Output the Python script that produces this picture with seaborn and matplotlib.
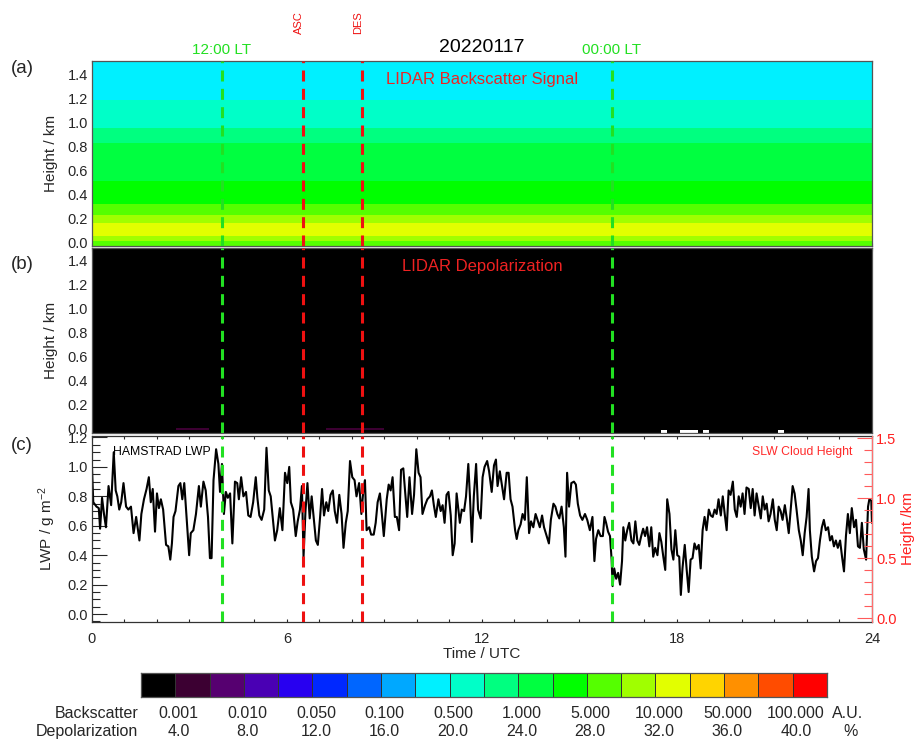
import numpy as np
import matplotlib
matplotlib.use('Agg')
import matplotlib.pyplot as plt
import matplotlib.transforms as mtransforms
from matplotlib.colors import ListedColormap, BoundaryNorm
from matplotlib.ticker import MultipleLocator, FormatStrFormatter
import seaborn as sns

# ---- data ----
date_label = '20220117'
hour_ticks = [0, 6, 12, 18, 24]

lt_times = [4.0, 16.0]
lt_labels = ['12:00 LT', '00:00 LT']
sat_times = [6.5, 8.3]
sat_labels = ['ASC', 'DES']

# colour table (20 levels)
level_colors = ['#000000', '#3c0032', '#560070', '#4a00b4', '#2800f0',
                '#0028ff', '#0066ff', '#00a8ff', '#00f0ff', '#00ffc8',
                '#00ff80', '#00ff40', '#00ff00', '#55ff00', '#a0ff00',
                '#e2ff00', '#ffd400', '#ff9000', '#ff4c00', '#ff0000']
bsc_labels = ['0.001', '0.010', '0.050', '0.100', '0.500',
              '1.000', '5.000', '10.000', '50.000', '100.000']
depol_labels = ['4.0', '8.0', '12.0', '16.0', '20.0',
                '24.0', '28.0', '32.0', '36.0', '40.0']

# (a) backscatter: height band edges (km) and colour level of each band
bsc_height_edges = [-0.035, 0.011, 0.052, 0.157, 0.23, 0.323, 0.37,
                    0.508, 0.826, 0.95, 1.185, 1.51]
bsc_band_level = [13, 14, 15, 14, 13, 12, 12, 11, 10, 9, 8]

# (b) depolarization: mostly zero, a few near-ground features
depol_time_edges = [0, 2.6, 3.6, 7.2, 9.0, 17.5, 17.7, 18.1, 18.65,
                    18.8, 19.0, 21.1, 21.3, 24]
depol_height_edges = [-0.035, -0.018, 0.005, 1.51]
depol_bottom_level = [0, 0, 0, 0, 0, np.nan, 0, np.nan, 0, np.nan, 0, np.nan, 0]
depol_ground_level = [0, 1, 0, 1, 0, 0, 0, 0, 0, 0, 0, 0, 0]

# (c) HAMSTRAD liquid water path
lwp_time = [
    0.00, 0.04, 0.14, 0.21, 0.25, 0.31, 0.37, 0.43, 0.51, 0.59, 0.67, 0.73, 0.78, 0.84, 0.90, 0.97,
    1.05, 1.12, 1.20, 1.28, 1.36, 1.46, 1.52, 1.60, 1.68, 1.75, 1.81, 1.87, 1.94, 2.00, 2.06, 2.12,
    2.19, 2.28, 2.35, 2.41, 2.46, 2.51, 2.57, 2.66, 2.72, 2.78, 2.84, 2.91, 2.99, 3.04, 3.12, 3.20,
    3.29, 3.35, 3.43, 3.50, 3.57, 3.63, 3.68, 3.74, 3.82, 3.89, 3.94, 4.00, 4.06, 4.12, 4.18, 4.25,
    4.32, 4.40, 4.47, 4.52, 4.59, 4.66, 4.74, 4.81, 4.88, 4.96, 5.04, 5.09, 5.15, 5.22, 5.30, 5.37,
    5.44, 5.50, 5.56, 5.63, 5.70, 5.78, 5.86, 5.94, 6.01, 6.07, 6.12, 6.19, 6.27, 6.33, 6.40, 6.46,
    6.51, 6.57, 6.63, 6.70, 6.76, 6.82, 6.89, 6.95, 7.02, 7.08, 7.14, 7.21, 7.27, 7.34, 7.41, 7.47,
    7.54, 7.61, 7.68, 7.74, 7.81, 7.87, 7.94, 8.01, 8.08, 8.14, 8.22, 8.29, 8.35, 8.40, 8.45, 8.53,
    8.59, 8.67, 8.73, 8.79, 8.86, 8.92, 8.98, 9.07, 9.13, 9.19, 9.25, 9.32, 9.38, 9.45, 9.51, 9.58,
    9.64, 9.70, 9.77, 9.85, 9.91, 9.98, 10.05, 10.11, 10.17, 10.25, 10.32, 10.40, 10.46, 10.52, 10.58, 10.66,
    10.73, 10.79, 10.85, 10.91, 10.97, 11.04, 11.10, 11.16, 11.22, 11.32, 11.38, 11.45, 11.51, 11.58, 11.63, 11.69,
    11.75, 11.82, 11.88, 11.96, 12.02, 12.08, 12.16, 12.22, 12.30, 12.37, 12.43, 12.48, 12.55, 12.62, 12.68, 12.76,
    12.82, 12.88, 12.94, 13.02, 13.07, 13.12, 13.19, 13.25, 13.32, 13.38, 13.45, 13.51, 13.58, 13.65, 13.71, 13.78,
    13.85, 13.91, 13.99, 14.06, 14.12, 14.20, 14.26, 14.32, 14.38, 14.45, 14.52, 14.57, 14.62, 14.68, 14.75, 14.83,
    14.89, 14.95, 15.02, 15.09, 15.17, 15.24, 15.32, 15.40, 15.46, 15.51, 15.58, 15.65, 15.72, 15.77, 15.82, 15.88,
    15.94, 15.99, 16.02, 16.07, 16.13, 16.19, 16.25, 16.31, 16.35, 16.41, 16.47, 16.53, 16.60, 16.66, 16.72, 16.78,
    16.84, 16.90, 16.96, 17.02, 17.08, 17.15, 17.21, 17.27, 17.33, 17.40, 17.46, 17.52, 17.58, 17.64, 17.70, 17.77,
    17.83, 17.89, 17.95, 18.01, 18.07, 18.12, 18.17, 18.24, 18.30, 18.36, 18.42, 18.48, 18.54, 18.60, 18.67, 18.73,
    18.79, 18.85, 18.91, 18.98, 19.04, 19.10, 19.16, 19.22, 19.28, 19.35, 19.41, 19.47, 19.53, 19.59, 19.65, 19.72,
    19.78, 19.84, 19.90, 19.96, 20.02, 20.08, 20.14, 20.21, 20.27, 20.33, 20.39, 20.45, 20.51, 20.58, 20.64, 20.70,
    20.76, 20.82, 20.88, 20.95, 21.01, 21.07, 21.13, 21.19, 21.25, 21.32, 21.38, 21.44, 21.50, 21.56, 21.62, 21.68,
    21.75, 21.81, 21.87, 21.93, 21.99, 22.05, 22.09, 22.15, 22.22, 22.28, 22.34, 22.40, 22.46, 22.52, 22.58, 22.65,
    22.71, 22.77, 22.83, 22.89, 22.95, 23.02, 23.08, 23.14, 23.20, 23.26, 23.32, 23.38, 23.45, 23.51, 23.57, 23.63,
    23.69, 23.75, 23.82, 23.88, 23.92, 23.98, 24.00]
lwp_value = [
    1.00, 0.76, 0.73, 0.72, 0.58, 0.79, 0.68, 0.59, 0.87, 0.74, 1.10, 0.84, 0.80, 0.71, 0.76, 0.89,
    0.73, 0.71, 0.73, 0.55, 0.66, 0.50, 0.68, 0.78, 0.85, 0.93, 0.76, 0.85, 0.56, 0.82, 0.72, 0.78,
    0.71, 0.47, 0.46, 0.37, 0.48, 0.66, 0.70, 0.87, 0.89, 0.78, 0.89, 0.66, 0.40, 0.55, 0.57, 0.68,
    0.87, 0.73, 0.90, 0.84, 0.66, 0.38, 0.38, 0.91, 1.12, 1.02, 0.83, 1.02, 0.68, 0.83, 0.79, 0.82,
    0.48, 0.90, 0.89, 0.78, 0.93, 0.80, 0.83, 0.67, 0.66, 0.76, 0.93, 0.79, 0.67, 0.64, 0.71, 1.13,
    0.84, 0.80, 0.66, 0.50, 0.57, 0.72, 0.57, 0.96, 0.89, 1.00, 0.76, 0.71, 0.53, 0.63, 0.71, 0.87,
    0.39, 0.70, 0.89, 0.65, 0.80, 0.66, 0.50, 0.47, 0.66, 0.85, 0.67, 0.76, 0.70, 0.81, 0.84, 0.70,
    0.62, 0.81, 0.68, 0.45, 0.62, 0.70, 1.04, 0.93, 0.91, 0.80, 0.89, 0.68, 0.84, 0.91, 0.57, 0.59,
    0.54, 0.54, 0.62, 0.76, 0.82, 0.68, 0.53, 0.78, 0.88, 0.84, 0.93, 0.66, 0.66, 0.57, 0.98, 0.99,
    0.82, 0.66, 0.93, 0.68, 0.81, 1.12, 0.96, 0.93, 0.68, 0.74, 0.78, 0.80, 0.84, 0.74, 0.66, 0.78,
    0.70, 0.74, 0.62, 0.81, 0.83, 0.67, 0.40, 0.48, 0.82, 0.62, 0.71, 0.70, 0.80, 1.02, 0.80, 0.49,
    0.80, 1.02, 0.71, 0.65, 0.93, 1.00, 1.04, 0.97, 0.83, 1.01, 1.05, 0.87, 0.97, 0.87, 0.78, 0.96,
    0.96, 0.78, 0.73, 0.57, 0.51, 0.57, 0.61, 0.68, 0.64, 0.93, 0.55, 0.63, 0.59, 0.68, 0.64, 0.59,
    0.67, 0.59, 0.53, 0.48, 0.64, 0.75, 0.73, 0.68, 0.65, 0.73, 0.59, 0.39, 0.96, 0.73, 0.89, 0.90,
    0.88, 0.75, 0.67, 0.64, 0.68, 0.64, 0.57, 0.66, 0.36, 0.51, 0.57, 0.53, 0.53, 0.66, 0.62, 0.56,
    0.53, 0.37, 0.19, 0.31, 0.24, 0.28, 0.20, 0.36, 0.59, 0.50, 0.57, 0.62, 0.50, 0.48, 0.63, 0.50,
    0.47, 0.53, 0.58, 0.53, 0.59, 0.46, 0.59, 0.39, 0.45, 0.40, 0.55, 0.49, 0.39, 0.30, 0.78, 0.68,
    0.44, 0.37, 0.57, 0.40, 0.39, 0.13, 0.31, 0.47, 0.30, 0.15, 0.37, 0.38, 0.48, 0.44, 0.47, 0.31,
    0.57, 0.66, 0.57, 0.71, 0.67, 0.66, 0.71, 0.68, 0.78, 0.67, 0.80, 0.68, 0.57, 0.84, 0.81, 0.90,
    0.71, 0.66, 0.80, 0.73, 0.82, 0.68, 0.86, 0.85, 0.72, 0.85, 0.67, 0.82, 0.74, 0.65, 0.80, 0.71,
    0.75, 0.63, 0.68, 0.78, 0.64, 0.57, 0.73, 0.70, 0.64, 0.74, 0.65, 0.55, 0.71, 0.87, 0.82, 0.71,
    0.57, 0.50, 0.40, 0.55, 0.66, 0.85, 0.57, 0.39, 0.29, 0.36, 0.38, 0.50, 0.59, 0.64, 0.57, 0.59,
    0.50, 0.53, 0.46, 0.50, 0.45, 0.50, 0.39, 0.29, 0.53, 0.68, 0.55, 0.72, 0.59, 0.64, 0.46, 0.45,
    0.62, 0.44, 0.37, 0.73, 0.78, 0.77, 0.62]

# ---- style ----
sns.set_style('ticks')
plt.rcParams['font.family'] = ['Liberation Sans', 'DejaVu Sans']
plt.rcParams['mathtext.fontset'] = 'custom'
plt.rcParams['mathtext.rm'] = 'Liberation Sans'
plt.rcParams['mathtext.it'] = 'Liberation Sans'

cmap = ListedColormap(level_colors)
norm = BoundaryNorm(np.arange(21) - 0.5, 20)
lt_color = '#22e022'
sat_color = '#ee1111'
txt_red = '#ee2222'

fig = plt.figure(figsize=(9.16, 7.42), dpi=100)
axa = fig.add_axes([0.1004, 0.6678, 0.8515, 0.25])
axb = fig.add_axes([0.1004, 0.4171, 0.8515, 0.2493])
axc = fig.add_axes([0.1004, 0.1617, 0.8515, 0.2507])
cax = fig.add_axes([0.1539, 0.0606, 0.7489, 0.0323])

# (a) backscatter bands
axa.pcolormesh([0, 24], bsc_height_edges, np.array(bsc_band_level)[:, None],
               cmap=cmap, norm=norm)
# (b) depolarization
depol_field = np.array([depol_bottom_level, depol_ground_level,
                        [0] * len(depol_ground_level)], dtype=float)
axb.set_facecolor('white')
axb.pcolormesh(depol_time_edges, depol_height_edges,
               np.ma.masked_invalid(depol_field), cmap=cmap, norm=norm)

for ax in (axa, axb):
    ax.set_xlim(0, 24)
    ax.set_ylim(-0.035, 1.51)
    ax.yaxis.set_major_locator(MultipleLocator(0.2))
    ax.yaxis.set_minor_locator(MultipleLocator(0.05))
    ax.yaxis.set_major_formatter(FormatStrFormatter('%.1f'))
    ax.xaxis.set_major_locator(MultipleLocator(6))
    ax.xaxis.set_minor_locator(MultipleLocator(1))
    ax.tick_params(which='both', direction='in', top=True, right=True,
                   labelbottom=False, labelsize=10.5, width=0.8)
    ax.tick_params(axis='y', which='major', length=6.5, pad=3)
    ax.tick_params(axis='y', which='minor', length=4.5)
    ax.tick_params(axis='x', which='both', length=2.5)
    ax.set_ylabel('Height / km', fontsize=11, labelpad=7)
    for s in ax.spines.values():
        s.set_color('#555555')
        s.set_linewidth(0.9)

axa.text(12, 1.0 - 0.1, 'LIDAR Backscatter Signal', transform=mtransforms.blended_transform_factory(axa.transData, axa.transAxes),
         ha='center', va='center', color=txt_red, fontsize=12)
axb.text(12, 1.0 - 0.1, 'LIDAR Depolarization', transform=mtransforms.blended_transform_factory(axb.transData, axb.transAxes),
         ha='center', va='center', color=txt_red, fontsize=12)

# (c) LWP line
sns.lineplot(x=lwp_time, y=lwp_value, ax=axc, color='black', linewidth=1.5,
             estimator=None, sort=False)
axc.set_xlim(0, 24)
axc.set_ylim(-0.054, 1.21)
axc.yaxis.set_major_locator(MultipleLocator(0.2))
axc.yaxis.set_minor_locator(MultipleLocator(0.05))
axc.yaxis.set_major_formatter(FormatStrFormatter('%.1f'))
axc.set_xticks(hour_ticks)
axc.xaxis.set_minor_locator(MultipleLocator(1))
axc.tick_params(which='both', direction='in', top=True, right=False,
                labelsize=10.5, width=0.8)
axc.tick_params(axis='y', which='major', length=11, pad=3)
axc.tick_params(axis='y', which='minor', length=6)
axc.tick_params(axis='x', which='both', length=2.5, pad=7)
axc.set_xlabel('Time / UTC', fontsize=11, labelpad=1)
axc.set_ylabel('LWP / g m$^{-2}$', fontsize=11, labelpad=7)
for s in axc.spines.values():
    s.set_color('#333333')
    s.set_linewidth(0.9)
axc.text(0.027, 0.915, 'HAMSTRAD LWP', transform=axc.transAxes, ha='left',
         va='center', fontsize=8.8, color='black')
axc.text(0.975, 0.915, 'SLW Cloud Height', transform=axc.transAxes, ha='right',
         va='center', fontsize=8.8, color='#ff2a2a')

ax2 = axc.twinx()
ax2.set_ylim(-0.033, 1.52)
ax2.yaxis.set_major_locator(MultipleLocator(0.5))
ax2.yaxis.set_minor_locator(MultipleLocator(0.1))
ax2.yaxis.set_major_formatter(FormatStrFormatter('%.1f'))
ax2.tick_params(which='both', direction='in', colors='#ff5a5a', labelcolor='#ff2020',
                labelsize=10.5, width=0.8)
ax2.tick_params(which='major', length=11, pad=3)
ax2.tick_params(which='minor', length=6)
ax2.set_ylabel('Height /km', fontsize=11, color='#ff2020', labelpad=3)
ax2.spines['right'].set_color('#ff7070')
for k in ('left', 'top', 'bottom'):
    ax2.spines[k].set_visible(False)

# vertical marker lines through all panels
for ax in (axa, axb, axc):
    for t in lt_times:
        ax.axvline(t, color=lt_color, lw=2.2, ls=(0, (3.6, 2.4)), zorder=5)
    for t in sat_times:
        ax.axvline(t, color=sat_color, lw=2.2, ls=(0, (3.6, 2.4)), zorder=5)

top_tr = mtransforms.blended_transform_factory(axa.transData, axa.transAxes)
for t, lab in zip(lt_times, lt_labels):
    axa.text(t, 1.06, lab, transform=top_tr, ha='center', va='center',
             color=lt_color, fontsize=11)
for t, lab in zip(sat_times, sat_labels):
    axa.text(t - 0.12, 1.205, lab, transform=top_tr, ha='center', va='center',
             color=sat_color, fontsize=8, rotation=90)
axa.text(12, 1.075, date_label, transform=top_tr, ha='center', va='center',
         color='black', fontsize=14)

fig.text(0.024, 0.908, '(a)', fontsize=13.5, ha='center', va='center')
fig.text(0.024, 0.643, '(b)', fontsize=13.5, ha='center', va='center')
fig.text(0.024, 0.400, '(c)', fontsize=13.5, ha='center', va='center')

# colour bar
cax.pcolormesh(np.arange(21), [0, 1], np.arange(20)[None, :], cmap=cmap,
               norm=norm, edgecolors='#333333', linewidth=0.6)
cax.set_xlim(0, 20)
cax.set_ylim(0, 1)
cax.set_xticks([])
cax.set_yticks([])
for s in cax.spines.values():
    s.set_color('#555555')
    s.set_linewidth(0.9)
cb_tr = mtransforms.blended_transform_factory(cax.transData, cax.transAxes)
for i, (b, d) in enumerate(zip(bsc_labels, depol_labels)):
    cax.text(2 * i + 1.1, -0.67, b, transform=cb_tr, ha='center', va='center', fontsize=11.5)
    cax.text(2 * i + 1.1, -1.42, d, transform=cb_tr, ha='center', va='center', fontsize=11.5)
cax.text(-0.08, -0.67, 'Backscatter', transform=cb_tr, ha='right', va='center', fontsize=11.5)
cax.text(-0.08, -1.42, 'Depolarization', transform=cb_tr, ha='right', va='center', fontsize=11.5)
cax.text(20.15, -0.67, 'A.U.', transform=cb_tr, ha='left', va='center', fontsize=11.5)
cax.text(20.7, -1.42, '%', transform=cb_tr, ha='center', va='center', fontsize=11.5)

fig.savefig('out.png', dpi=100)
